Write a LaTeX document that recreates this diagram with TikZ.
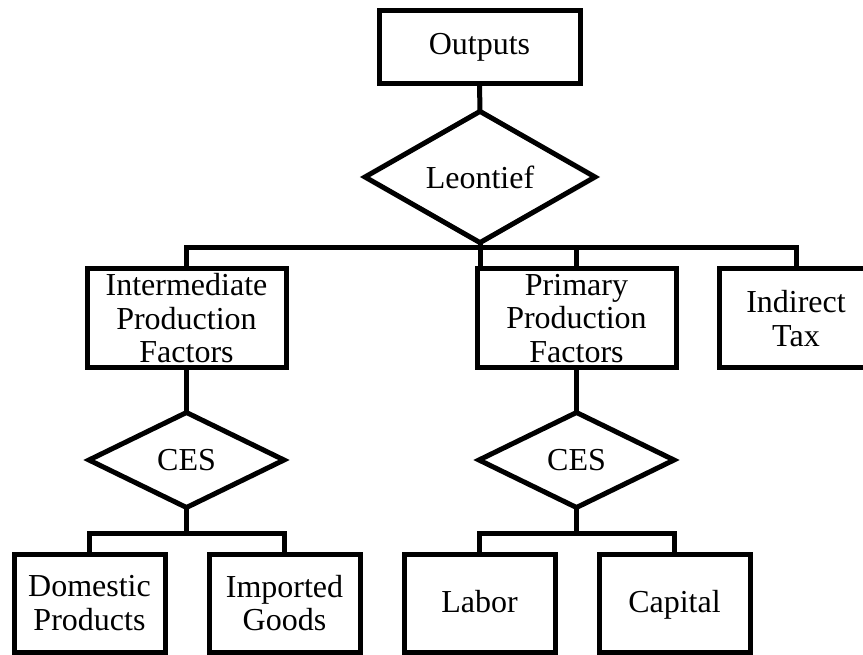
\documentclass[tikz,border=0pt]{standalone}
\usepackage{fontspec}
\setmainfont{Liberation Serif}
\usetikzlibrary{shapes.geometric}
\begin{document}
\begin{tikzpicture}[x=1pt,y=-1pt,
  every node/.style={inner sep=0pt,outer sep=0pt,align=center,
    font=\fontsize{32}{33.5}\selectfont},
  box/.style={draw,line width=5pt,rectangle,minimum width=#1},
  box/.default=199pt,
  oneline/.style={text height=24pt,text depth=6pt},
  nest/.style={draw,line width=5pt,diamond,minimum width=#1,minimum height=95pt},
  link/.style={line width=5pt,line cap=rect}]
\path[use as bounding box,clip] (0,0) rectangle (863,655);

% top level
\node[box=201pt,minimum height=73pt] (out) at (479.5,47.5) {Outputs};
\node[nest=230pt] (lt) at (480,177) {Leontief};

% second level
\node[box,minimum height=99pt] (int) at (186.5,318.5) {Intermediate\\Production\\Factors};
\node[box,minimum height=99pt] (pri) at (576.5,318.5) {Primary\\Production\\Factors};
\node[box=154pt,minimum height=99pt] (ind) at (796,318.5) {Indirect\\Tax};

% nests below the factor groups
\node[nest=195pt] (ces1) at (186.5,460) {CES};
\node[nest=195pt] (ces2) at (576.5,460) {CES};

% inputs
\node[box=151pt,minimum height=98pt] (dom) at (89.5,603) {Domestic\\Products};
\node[box=151pt,minimum height=98pt] (imp) at (284.5,603) {Imported\\Goods};
\node[box=151pt,minimum height=98pt,oneline] (lab) at (479.5,603) {Labor};
\node[box=151pt,minimum height=98pt,oneline] (cap) at (674.5,603) {Capital};

% connectors (positive y runs downwards)
\draw[link] (out.south) -- (lt.north);
\draw[link] (lt.south) -- ++(0,24);
\draw[link] (int.north) -- ++(0,-21) -| (ind.north);
\draw[link] (pri.north) -- ++(0,-21);

\draw[link] (int.south) -- (ces1.north);
\draw[link] (pri.south) -- (ces2.north);

\draw[link] (ces1.south) -- ++(0,26);
\draw[link] (dom.north) -- ++(0,-21) -| (imp.north);
\draw[link] (ces2.south) -- ++(0,26);
\draw[link] (lab.north) -- ++(0,-21) -| (cap.north);
\end{tikzpicture}
\end{document}
